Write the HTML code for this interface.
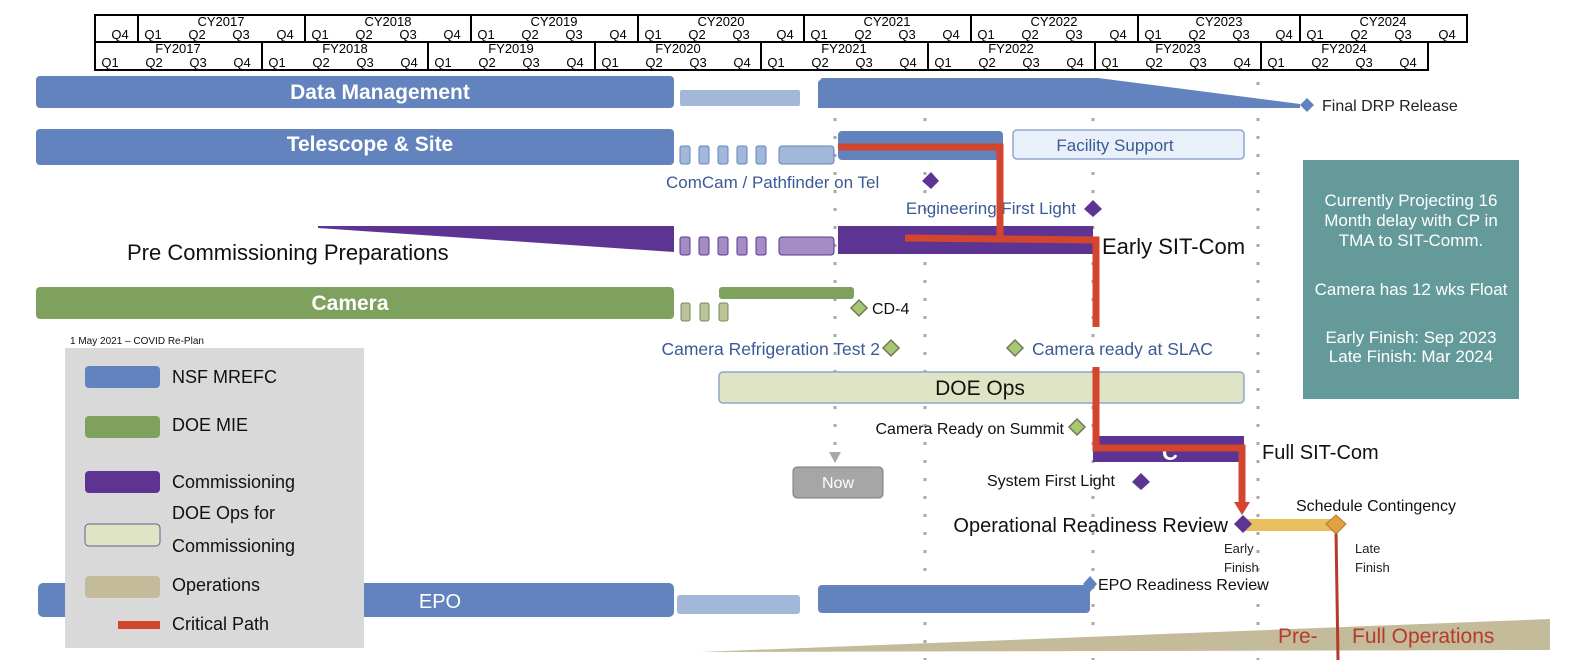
<!DOCTYPE html>
<html><head><meta charset="utf-8"><style>
html,body{margin:0;padding:0;background:#fff;}
svg{display:block;font-family:"Liberation Sans",sans-serif;}
</style></head><body>
<svg width="1574" height="660" viewBox="0 0 1574 660" xmlns="http://www.w3.org/2000/svg">
<!-- header -->
<g stroke="#000" stroke-width="2" fill="none">
<rect x="95" y="15" width="1372" height="27"/>
<rect x="95" y="42" width="1333" height="28"/>
<line x1="138" y1="15" x2="138" y2="42"/><line x1="305" y1="15" x2="305" y2="42"/><line x1="471" y1="15" x2="471" y2="42"/><line x1="638" y1="15" x2="638" y2="42"/><line x1="804" y1="15" x2="804" y2="42"/><line x1="971" y1="15" x2="971" y2="42"/><line x1="1138" y1="15" x2="1138" y2="42"/><line x1="1300" y1="15" x2="1300" y2="42"/>
<line x1="262" y1="42" x2="262" y2="70"/><line x1="428" y1="42" x2="428" y2="70"/><line x1="595" y1="42" x2="595" y2="70"/><line x1="761" y1="42" x2="761" y2="70"/><line x1="928" y1="42" x2="928" y2="70"/><line x1="1095" y1="42" x2="1095" y2="70"/><line x1="1261" y1="42" x2="1261" y2="70"/>
</g>
<g font-size="13" fill="#000" text-anchor="middle">
<text x="221" y="26">CY2017</text><text x="388" y="26">CY2018</text><text x="554" y="26">CY2019</text><text x="721" y="26">CY2020</text><text x="887" y="26">CY2021</text><text x="1054" y="26">CY2022</text><text x="1219" y="26">CY2023</text><text x="1383" y="26">CY2024</text>
<text x="120" y="39">Q4</text>
<text x="153" y="39">Q1</text><text x="197" y="39">Q2</text><text x="241" y="39">Q3</text><text x="285" y="39">Q4</text>
<text x="320" y="39">Q1</text><text x="364" y="39">Q2</text><text x="408" y="39">Q3</text><text x="452" y="39">Q4</text>
<text x="486" y="39">Q1</text><text x="530" y="39">Q2</text><text x="574" y="39">Q3</text><text x="618" y="39">Q4</text>
<text x="653" y="39">Q1</text><text x="697" y="39">Q2</text><text x="741" y="39">Q3</text><text x="785" y="39">Q4</text>
<text x="819" y="39">Q1</text><text x="863" y="39">Q2</text><text x="907" y="39">Q3</text><text x="951" y="39">Q4</text>
<text x="986" y="39">Q1</text><text x="1030" y="39">Q2</text><text x="1074" y="39">Q3</text><text x="1118" y="39">Q4</text>
<text x="1153" y="39">Q1</text><text x="1197" y="39">Q2</text><text x="1241" y="39">Q3</text><text x="1284" y="39">Q4</text>
<text x="1315" y="39">Q1</text><text x="1359" y="39">Q2</text><text x="1403" y="39">Q3</text><text x="1447" y="39">Q4</text>
<text x="178" y="53">FY2017</text><text x="345" y="53">FY2018</text><text x="511" y="53">FY2019</text><text x="678" y="53">FY2020</text><text x="844" y="53">FY2021</text><text x="1011" y="53">FY2022</text><text x="1178" y="53">FY2023</text><text x="1344" y="53">FY2024</text>
<text x="110" y="67">Q1</text><text x="154" y="67">Q2</text><text x="198" y="67">Q3</text><text x="242" y="67">Q4</text>
<text x="277" y="67">Q1</text><text x="321" y="67">Q2</text><text x="365" y="67">Q3</text><text x="409" y="67">Q4</text>
<text x="443" y="67">Q1</text><text x="487" y="67">Q2</text><text x="531" y="67">Q3</text><text x="575" y="67">Q4</text>
<text x="610" y="67">Q1</text><text x="654" y="67">Q2</text><text x="698" y="67">Q3</text><text x="742" y="67">Q4</text>
<text x="776" y="67">Q1</text><text x="820" y="67">Q2</text><text x="864" y="67">Q3</text><text x="908" y="67">Q4</text>
<text x="943" y="67">Q1</text><text x="987" y="67">Q2</text><text x="1031" y="67">Q3</text><text x="1075" y="67">Q4</text>
<text x="1110" y="67">Q1</text><text x="1154" y="67">Q2</text><text x="1198" y="67">Q3</text><text x="1242" y="67">Q4</text>
<text x="1276" y="67">Q1</text><text x="1320" y="67">Q2</text><text x="1364" y="67">Q3</text><text x="1408" y="67">Q4</text>
</g>

<!-- dotted lines -->
<g stroke="#a8a8a8" stroke-width="3" stroke-dasharray="3 15" fill="none">
<line x1="835" y1="82" x2="835" y2="455"/>
<line x1="925" y1="82" x2="925" y2="660"/>
<line x1="1258" y1="82" x2="1258" y2="660"/>
<line x1="1093" y1="82" x2="1093" y2="660"/>
</g>
<polygon points="829,452 841,452 835,463" fill="#a8a8a8"/>

<!-- Operations wedge -->
<polygon points="700,652 1550,619 1550,650 700,652" fill="#c3bb9a"/>
<text x="1278" y="643" font-size="21" fill="#b83a2e">Pre-</text>
<text x="1352" y="643" font-size="21" fill="#b83a2e">Full Operations</text>

<!-- Data Management -->
<rect x="36" y="76" width="638" height="32" rx="4" fill="#6283bd"/>
<text x="380" y="99" font-size="21" font-weight="bold" fill="#fff" text-anchor="middle">Data Management</text>
<rect x="680" y="90" width="120" height="16" rx="2" fill="#a3b8d8"/>
<polygon points="822,78 1098,78 1300,104 1300,108 818,108 818,82" fill="#6283bd"/>
<polygon points="1307,98 1314,105 1307,112 1300,105" fill="#6283bd"/>
<text x="1322" y="111" font-size="16" fill="#222">Final DRP Release</text>

<!-- Telescope & Site -->
<rect x="36" y="129" width="638" height="36" rx="4" fill="#6283bd"/>
<text x="370" y="151" font-size="21" font-weight="bold" fill="#fff" text-anchor="middle">Telescope &amp; Site</text>
<g fill="#a3b8d8" stroke="#6283bd" stroke-width="1">
<rect x="680" y="146" width="10" height="18" rx="2"/><rect x="699" y="146" width="10" height="18" rx="2"/><rect x="718" y="146" width="10" height="18" rx="2"/><rect x="737" y="146" width="10" height="18" rx="2"/><rect x="756" y="146" width="10" height="18" rx="2"/><rect x="779" y="146" width="55" height="18" rx="3"/>
</g>
<rect x="838" y="131" width="165" height="29" rx="4" fill="#6283bd"/>
<rect x="1013" y="130" width="231" height="29" rx="4" fill="#eaf0f9" stroke="#8fa6cf" stroke-width="1.5"/>
<text x="1115" y="151" font-size="17" fill="#3b5a95" text-anchor="middle">Facility Support</text>
<text x="666" y="188" font-size="17" fill="#3b5a95">ComCam / Pathfinder on Tel</text>
<polygon points="931,172 939,181 931,189 922,181" fill="#5e3493"/>
<text x="1076" y="214" font-size="17" fill="#3b5a95" text-anchor="end">Engineering First Light</text>
<polygon points="1093,200 1102,209 1093,217 1084,209" fill="#5e3493"/>

<!-- Commissioning -->
<polygon points="318,226 674,226 674,252 318,228" fill="#5e3493"/>
<text x="127" y="260" font-size="22" fill="#111">Pre Commissioning Preparations</text>
<g fill="#a48cc4" stroke="#5e3493" stroke-width="1">
<rect x="680" y="237" width="10" height="18" rx="2"/><rect x="699" y="237" width="10" height="18" rx="2"/><rect x="718" y="237" width="10" height="18" rx="2"/><rect x="737" y="237" width="10" height="18" rx="2"/><rect x="756" y="237" width="10" height="18" rx="2"/><rect x="779" y="237" width="55" height="18" rx="3"/>
</g>
<rect x="838" y="226" width="255" height="28" fill="#5e3493"/>
<text x="1102" y="254" font-size="22" fill="#111">Early SIT-Com</text>

<!-- Camera -->
<rect x="36" y="287" width="638" height="32" rx="4" fill="#7ea25e"/>
<text x="350" y="310" font-size="21" font-weight="bold" fill="#fff" text-anchor="middle">Camera</text>
<g fill="#bcc39a" stroke="#6e8c52" stroke-width="1">
<rect x="681" y="303" width="9" height="18" rx="2"/><rect x="700" y="303" width="9" height="18" rx="2"/><rect x="719" y="303" width="9" height="18" rx="2"/>
</g>
<rect x="719" y="287" width="135" height="12" rx="3" fill="#7ea25e"/>
<polygon points="859,300 867,308 859,316 851,308" fill="#a6c870" stroke="#6e7a60" stroke-width="1.5"/>
<text x="872" y="314" font-size="16" fill="#111">CD-4</text>
<text x="880" y="355" font-size="17.5" fill="#3b5a95" text-anchor="end">Camera Refrigeration Test 2</text>
<polygon points="891,340 899,348 891,356 883,348" fill="#a6c870" stroke="#6e7a60" stroke-width="1.5"/>
<polygon points="1015,340 1023,348 1015,356 1007,348" fill="#a6c870" stroke="#6e7a60" stroke-width="1.5"/>
<text x="1032" y="355" font-size="17.5" fill="#3b5a95">Camera ready at SLAC</text>

<!-- DOE Ops -->
<rect x="719" y="372" width="525" height="31" rx="4" fill="#dfe5c4" stroke="#8fa6cf" stroke-width="1.5"/>
<text x="980" y="395" font-size="21" fill="#111" text-anchor="middle">DOE Ops</text>
<text x="1064" y="434" font-size="16" fill="#111" text-anchor="end">Camera Ready on Summit</text>
<polygon points="1077,419 1085,427 1077,435 1069,427" fill="#a6c870" stroke="#6e7a60" stroke-width="1.5"/>

<rect x="1093" y="436" width="151" height="26" fill="#5e3493"/>
<text x="1170" y="460" font-size="22" font-weight="bold" fill="#fff" text-anchor="middle">C</text>
<text x="1262" y="459" font-size="20" fill="#111">Full SIT-Com</text>
<text x="1115" y="486" font-size="16" fill="#111" text-anchor="end">System First Light</text>
<polygon points="1141,473 1150,482 1141,490 1132,482" fill="#5e3493"/>

<rect x="793" y="467" width="90" height="31" rx="4" fill="#a6a6a6" stroke="#7a7a7a" stroke-width="1"/>
<text x="838" y="488" font-size="16" fill="#fff" text-anchor="middle">Now</text>

<!-- schedule contingency -->
<rect x="1243" y="519" width="92" height="12" fill="#e8c060"/>
<line x1="1336" y1="530" x2="1338" y2="660" stroke="#b83a2e" stroke-width="3"/>
<polygon points="1336,515 1346,524 1336,534 1326,524" fill="#e3a040" stroke="#b07a30" stroke-width="1"/>
<text x="1376" y="511" font-size="16" fill="#111" text-anchor="middle">Schedule Contingency</text>
<text x="1228" y="532" font-size="20" fill="#111" text-anchor="end">Operational Readiness Review</text>
<polygon points="1243,515 1252,524 1243,533 1234,524" fill="#5e3493"/>
<g font-size="13" fill="#222">
<text x="1224" y="553">Early</text><text x="1224" y="572">Finish</text>
<text x="1355" y="553">Late</text><text x="1355" y="572">Finish</text>
</g>

<!-- EPO -->
<rect x="38" y="583" width="636" height="34" rx="5" fill="#6283bd"/>
<text x="440" y="608" font-size="20" fill="#fff" text-anchor="middle">EPO</text>
<rect x="677" y="595" width="123" height="19" rx="3" fill="#a3b8d8"/>
<rect x="818" y="585" width="272" height="28" rx="4" fill="#6283bd"/>
<polygon points="1090,576 1097,584 1090,592 1083,584" fill="#6283bd"/>
<text x="1098" y="590" font-size="16" fill="#111">EPO Readiness Review</text>

<!-- critical path -->
<g stroke="#d4452e" stroke-width="7" fill="none" stroke-linejoin="miter">
<polyline points="838,147 1000,147 1000,240"/>
<polyline points="905,238 1096,240 1096,327"/>
<polyline points="1096,367 1096,448 1242,448 1242,505"/>
</g>
<polygon points="1234,502 1250,502 1242,515" fill="#d4452e"/>

<!-- teal note -->
<rect x="1303" y="160" width="216" height="239" fill="#659a9a"/>
<g font-size="17" fill="#fff" text-anchor="middle">
<text x="1411" y="206">Currently Projecting 16</text>
<text x="1411" y="226">Month delay with CP in</text>
<text x="1411" y="246">TMA to SIT-Comm.</text>
<text x="1411" y="295">Camera has 12 wks Float</text>
<text x="1411" y="343">Early Finish:  Sep  2023</text>
<text x="1411" y="362">Late Finish:  Mar  2024</text>
</g>

<!-- legend -->
<text x="70" y="344" font-size="10" fill="#111">1 May 2021 – COVID  Re-Plan</text>
<rect x="65" y="348" width="299" height="300" fill="#d9d9d9"/>
<rect x="85" y="366" width="75" height="22" rx="4" fill="#6283bd"/>
<text x="172" y="383" font-size="18" fill="#111">NSF MREFC</text>
<rect x="85" y="416" width="75" height="22" rx="4" fill="#7ea25e"/>
<text x="172" y="431" font-size="18" fill="#111">DOE MIE</text>
<rect x="85" y="471" width="75" height="22" rx="4" fill="#5e3493"/>
<text x="172" y="488" font-size="18" fill="#111">Commissioning</text>
<rect x="85" y="524" width="75" height="22" rx="4" fill="#dfe5c4" stroke="#6a5a90" stroke-width="1"/>
<text x="172" y="519" font-size="18" fill="#111">DOE Ops for</text>
<text x="172" y="552" font-size="18" fill="#111">Commissioning</text>
<rect x="85" y="576" width="75" height="22" rx="4" fill="#c3bb9a"/>
<text x="172" y="591" font-size="18" fill="#111">Operations</text>
<rect x="118" y="621" width="42" height="8" fill="#d4452e"/>
<text x="172" y="630" font-size="18" fill="#111">Critical Path</text>
</svg>
</body></html>
